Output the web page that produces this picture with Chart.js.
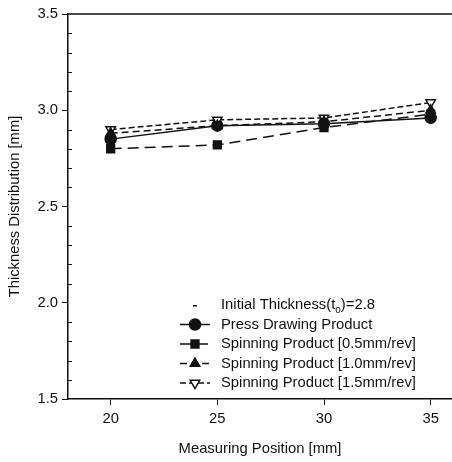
<!DOCTYPE html>
<html>
<head>
<meta charset="utf-8">
<script src="https://cdn.jsdelivr.net/npm/chart.js@4/dist/chart.umd.min.js"></script>
<style>
  html, body { margin: 0; padding: 0; background: #fff; }
  #wrap { width: 452px; height: 462px; }
</style>
</head>
<body>
<div id="wrap"><canvas id="c" width="452" height="462"></canvas></div>
<script>
// measuring positions [mm]
let positions = [20, 25, 30, 35];

// thickness values [mm]
let pressDrawing = [2.85, 2.92, 2.93, 2.96];
let spin05 = [2.80, 2.82, 2.91, 2.98];
let spin10 = [2.88, 2.92, 2.94, 3.00];
let spin15 = [2.90, 2.95, 2.96, 3.04];

let initialThickness = 2.8;

let yTickLabels = ['1.5', '2.0', '2.5', '3.0', '3.5'];
let xTickLabels = ['20', '25', '30', '35'];

const FONT = "'Liberation Sans', Arial, sans-serif";
const FS = 14.8;

const toPoints = (vals) => positions.map((p, i) => ({ x: p, y: vals[i] }));

const serie = (label, vals, style, fill, dash, rot) => {
    return {
        label,
        data: toPoints(vals),
        showLine: true,
        borderColor: '#111',
        borderWidth: 1.5,
        borderDash: dash,
        pointStyle: style,
        pointRotation: rot || 0,
        pointRadius: 5.5,
        pointBackgroundColor: fill,
        pointBorderColor: '#111',
        pointBorderWidth: 1.5,
        tension: 0
    }
}

let datasets = [
    serie('Spinning Product [0.5mm/rev]', spin05, 'rect', '#111', [11, 6]),
    serie('Spinning Product [1.0mm/rev]', spin10, 'triangle', '#111', [7, 4]),
    serie('Spinning Product [1.5mm/rev]', spin15, 'triangle', '#fff', [6, 3], 180),
    serie('Press Drawing Product', pressDrawing, 'circle', '#111', [])
];

// legend drawn inside the plot, bottom right
const legendItems = [
    { text: 'Initial Thickness(t', sub: 'o', tail: ')=' + initialThickness.toFixed(1), ds: null },
    { text: 'Press Drawing Product', ds: 3 },
    { text: 'Spinning Product [0.5mm/rev]', ds: 0 },
    { text: 'Spinning Product [1.0mm/rev]', ds: 1 },
    { text: 'Spinning Product [1.5mm/rev]', ds: 2 }
];

const insideLegend = {
    id: 'insideLegend',
    afterDraw(chart) {
        let ctx = chart.ctx;
        let x0 = 180, x1 = 210, tx = 221, y = 305, step = 19.5;
        ctx.save();
        ctx.font = FS + 'px ' + FONT;
        ctx.fillStyle = '#111';
        ctx.textBaseline = 'middle';
        legendItems.forEach((it, i) => {
            let yy = y + i * step;
            if (it.ds === null) {
                ctx.fillRect(193, yy, 4, 1.5);
                ctx.fillText(it.text, tx, yy);
                let w = ctx.measureText(it.text).width;
                ctx.font = '10px ' + FONT;
                ctx.fillText(it.sub, tx + w, yy + 5);
                let w2 = ctx.measureText(it.sub).width;
                ctx.font = FS + 'px ' + FONT;
                ctx.fillText(it.tail, tx + w + w2, yy);
                return;
            }
            let d = chart.data.datasets[it.ds];
            ctx.strokeStyle = '#111';
            ctx.lineWidth = 1.5;
            ctx.setLineDash(d.borderDash);
            ctx.beginPath();
            ctx.moveTo(x0, yy);
            ctx.lineTo(x1, yy);
            ctx.stroke();
            ctx.setLineDash([]);
            ctx.fillStyle = d.pointBackgroundColor;
            ctx.strokeStyle = '#111';
            ctx.beginPath();
            Chart.helpers.drawPoint(ctx, {
                pointStyle: d.pointStyle,
                rotation: d.pointRotation,
                radius: 5.5,
                borderWidth: 1.5
            }, 195, yy);
            ctx.fillStyle = '#111';
            ctx.fillText(it.text, tx, yy);
        });
        ctx.restore();
    }
};

// minor ticks on the y axis, pointing into the plot
const minorTicks = {
    id: 'minorTicks',
    afterDraw(chart) {
        let ctx = chart.ctx, ys = chart.scales.y, left = chart.chartArea.left;
        ctx.save();
        ctx.strokeStyle = '#111';
        ctx.lineWidth = 1;
        for (let v = 1.6; v < 3.5; v += 0.1) {
            let r = Math.round(v * 10);
            if (r % 5 === 0) continue;
            let py = Math.round(ys.getPixelForValue(r / 10)) + 0.5;
            ctx.beginPath();
            ctx.moveTo(left, py);
            ctx.lineTo(left + 4, py);
            ctx.stroke();
        }
        // top frame line
        ctx.lineWidth = 1.5;
        ctx.beginPath();
        ctx.moveTo(left, chart.chartArea.top);
        ctx.lineTo(chart.chartArea.right, chart.chartArea.top);
        ctx.stroke();
        ctx.restore();
    }
};

Chart.defaults.font.family = FONT;
Chart.defaults.color = '#111';

new Chart(document.getElementById('c').getContext('2d'), {
    type: 'scatter',
    data: { datasets },
    options: {
        responsive: false,
        animation: false,
        layout: { autoPadding: false, padding: { top: 14, right: 0, left: 2, bottom: 0 } },
        plugins: { legend: { display: false }, tooltip: { enabled: false } },
        scales: {
            x: {
                type: 'linear',
                min: 18, max: 36,
                afterBuildTicks: (s) => { s.ticks = xTickLabels.map(t => ({ value: Number(t) })); },
                afterFit: (s) => { s.height = 63; s.paddingRight = 0; s.paddingLeft = 0; },
                ticks: {
                    font: { size: FS },
                    padding: 5,
                    callback: (v) => xTickLabels.includes(String(v)) ? String(v) : ''
                },
                grid: { drawOnChartArea: false, tickLength: 6, color: '#111', lineWidth: 1 },
                border: { color: '#111', width: 1.5 },
                title: { display: true, text: 'Measuring Position [mm]', font: { size: FS }, padding: { top: 3 } }
            },
            y: {
                min: 1.5, max: 3.5,
                afterBuildTicks: (s) => { s.ticks = yTickLabels.map(t => ({ value: Number(t) })); },
                afterFit: (s) => { s.width = 66; s.paddingTop = 0; s.paddingBottom = 0; },
                ticks: {
                    font: { size: FS },
                    padding: 4,
                    callback: (v) => Number(v).toFixed(1)
                },
                grid: { drawOnChartArea: false, tickLength: 6, color: '#111', lineWidth: 1 },
                border: { color: '#111', width: 1.5 },
                title: { display: true, text: 'Thickness Distribution [mm]', font: { size: FS }, padding: { bottom: 4 } }
            }
        }
    },
    plugins: [insideLegend, minorTicks]
});
</script>
</body>
</html>
